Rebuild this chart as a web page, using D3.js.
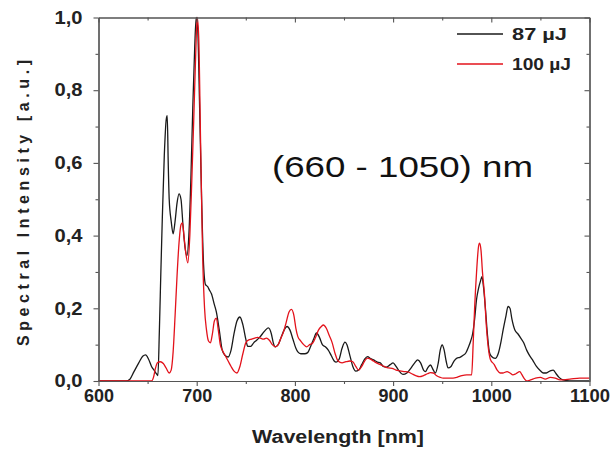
<!DOCTYPE html>
<html>
<head>
<meta charset="utf-8">
<script src="https://cdn.jsdelivr.net/npm/d3@7"></script>
<style>
  html, body { margin: 0; padding: 0; background: #fff; }
  svg { display: block; }
  text { font-family: "Liberation Sans", Arial, sans-serif; }
</style>
</head>
<body>
<svg id="chart" width="610" height="453"></svg>
<script>
// ---------- data ----------
const seriesNames = ["87 µJ", "100 µJ"];
const xTickValues = [600, 700, 800, 900, 1000, 1100];
const xTickLabels = ["600", "700", "800", "900", "1000", "1100"];
const yTickValues = [0, 0.2, 0.4, 0.6, 0.8, 1.0];
const yTickLabels = ["0,0", "0,2", "0,4", "0,6", "0,8", "1,0"];
const annotation = "(660 - 1050) nm";

const wl87 = [600,628,632,636,641,645,648,651,654,657,659,660.5,662,663.5,665,667,669,670,671,672,674,676,678,680,682,684,686,688,690,692,694,696,698,699.5,701,703,705,707,709,711,713,715,718,720,723,726,729,732,735,738,741,744,747,750,752,755,758,761,764,767,770,773,776,778,780,783,786,789,792,795,798,801,803,806,810,813,816,819,822,825,828,831,834,837,840,842,845,848,851,853,856,859,862,865,868,871,874,877,880,884,887,890,893,897,900,903,906,910,914,918,922,925,928,931,933,935,938,941,943,946,948,950,952,954,956,959,962,965,968,971,974,977,979,981,983,985,987,989,990.5,992,994,996,998,1000,1004,1007,1010,1012,1015,1017,1019,1021,1024,1027,1030,1033,1036,1039,1042,1046,1050,1053,1056,1060,1063,1066,1069,1073,1080,1100];
const int87 = [0,0,0.005,0.025,0.05,0.068,0.072,0.06,0.04,0.028,0.02,0.015,0.14,0.3,0.45,0.62,0.72,0.73,0.6,0.5,0.44,0.405,0.44,0.49,0.515,0.5,0.43,0.37,0.345,0.4,0.55,0.75,0.92,1.0,0.97,0.75,0.5,0.32,0.265,0.26,0.25,0.24,0.21,0.19,0.14,0.085,0.07,0.066,0.085,0.13,0.165,0.176,0.155,0.115,0.095,0.095,0.105,0.112,0.12,0.13,0.14,0.146,0.13,0.105,0.094,0.1,0.12,0.14,0.15,0.14,0.115,0.09,0.08,0.075,0.075,0.078,0.095,0.115,0.132,0.12,0.1,0.094,0.085,0.07,0.055,0.052,0.06,0.09,0.107,0.1,0.07,0.04,0.027,0.03,0.045,0.06,0.067,0.062,0.058,0.052,0.05,0.04,0.038,0.045,0.05,0.04,0.028,0.018,0.022,0.035,0.05,0.058,0.05,0.03,0.026,0.035,0.044,0.03,0.022,0.05,0.085,0.099,0.085,0.055,0.036,0.04,0.055,0.063,0.065,0.07,0.077,0.095,0.11,0.13,0.17,0.225,0.255,0.275,0.287,0.26,0.2,0.13,0.08,0.068,0.062,0.075,0.11,0.14,0.18,0.205,0.2,0.17,0.14,0.13,0.118,0.105,0.085,0.07,0.058,0.04,0.028,0.022,0.022,0.028,0.03,0.02,0.01,0.003,0,0];

const wl100 = [600,654,656,658,660,663,666,669,672,674,676,678,680,682,684,685.5,687,689,691,693,695,697,699,700.5,702,704,706,708,710,712,714,716,718,720,722,724,726,729,732,735,738,741,744,747,750,753,756,759,762,765,768,771,774,777,780,783,786,788,791,794,796.5,799,801,803,806,809,812,815,818,821,824,827,829,832,835,838,841,844,848,852,856,859,862,865,868,871,874,877,880,883,887,891,895,899,903,907,911,915,919,923,927,931,935,938,941,944,948,951,956,961,965,970,975,980,981.5,983,985,987,988,989.5,991,993,995,997,999,1003,1006,1009,1012,1016,1019,1022,1025,1029,1031,1034,1036,1040,1045,1050,1055,1060,1065,1070,1080,1090,1100];
const int100 = [0,0,0.01,0.035,0.05,0.053,0.048,0.035,0.022,0.03,0.08,0.18,0.29,0.38,0.43,0.435,0.4,0.35,0.325,0.4,0.55,0.72,0.9,1.0,0.95,0.65,0.35,0.2,0.14,0.11,0.105,0.13,0.165,0.173,0.14,0.1,0.085,0.07,0.055,0.04,0.027,0.022,0.04,0.075,0.105,0.113,0.115,0.118,0.12,0.118,0.115,0.118,0.112,0.1,0.094,0.1,0.12,0.132,0.16,0.19,0.197,0.18,0.145,0.122,0.11,0.1,0.094,0.1,0.104,0.12,0.14,0.15,0.154,0.145,0.125,0.105,0.075,0.055,0.05,0.053,0.055,0.053,0.04,0.03,0.04,0.055,0.063,0.06,0.055,0.05,0.045,0.04,0.036,0.035,0.03,0.028,0.026,0.025,0.02,0.015,0.012,0.015,0.02,0.023,0.022,0.015,0.01,0.008,0.008,0.008,0.01,0.015,0.017,0.017,0.1,0.2,0.3,0.37,0.379,0.36,0.3,0.24,0.15,0.09,0.06,0.045,0.03,0.022,0.022,0.026,0.022,0.017,0.02,0.026,0.018,0.005,0,0.003,0.008,0.01,0.005,0.01,0.008,0.003,0.005,0.008,0.008];

const series = [
  { name: seriesNames[0], wl: wl87, v: int87, color: "#1a1a1a" },
  { name: seriesNames[1], wl: wl100, v: int100, color: "#e3121b" }
];

// ---------- layout ----------
const svg = d3.select("#chart");
const L = 98.5, R = 589.5, T = 17.5, B = 381;
const x = d3.scaleLinear().domain([600, 1100]).range([L, R]);
const y = d3.scaleLinear().domain([0, 1.0]).range([B, T]);
const axisColor = "#555";

// ---------- lines ----------
const line = d3.line().x(d => x(d[0])).y(d => y(d[1])).curve(d3.curveMonotoneX);
const plot = svg.append("g");
series.forEach(s => {
  plot.append("path")
    .datum(s.wl.map((w, i) => [w, s.v[i]]))
    .attr("fill", "none")
    .attr("stroke", s.color)
    .attr("stroke-width", 1.3)
    .attr("stroke-linejoin", "round")
    .attr("d", line);
});

// ---------- axes ----------
function styleAxis(g) {
  g.selectAll(".domain").attr("stroke", axisColor).attr("stroke-width", 1.2);
  g.selectAll(".tick line").attr("stroke", axisColor).attr("stroke-width", 1.1);
  g.selectAll(".tick text")
    .attr("fill", "#222")
    .attr("font-size", 18)
    .attr("font-weight", "bold");
}

const minorX = d3.range(650, 1100, 100);
const minorY = [0.1, 0.3, 0.5, 0.7, 0.9];

// bottom
const gx = svg.append("g").attr("transform", `translate(0,${B})`)
  .call(d3.axisBottom(x).tickValues(xTickValues).tickFormat((d, i) => xTickLabels[i]).tickSize(5).tickSizeOuter(0).tickPadding(3))
  .call(styleAxis);
gx.selectAll(".tick text").each(function () {
  const n = this.textContent.length;
  d3.select(this).attr("textLength", n * 10).attr("lengthAdjust", "spacingAndGlyphs");
});
svg.append("g").attr("transform", `translate(0,${B})`)
  .call(d3.axisBottom(x).tickValues(minorX).tickFormat("").tickSize(3).tickSizeOuter(0))
  .call(styleAxis);
// left
const gy = svg.append("g").attr("transform", `translate(${L},0)`)
  .call(d3.axisLeft(y).tickValues(yTickValues).tickFormat((d, i) => yTickLabels[i]).tickSize(5).tickSizeOuter(0).tickPadding(11))
  .call(styleAxis);
gy.selectAll(".tick text").attr("textLength", 28).attr("lengthAdjust", "spacingAndGlyphs");
svg.append("g").attr("transform", `translate(${L},0)`)
  .call(d3.axisLeft(y).tickValues(minorY).tickFormat("").tickSize(3).tickSizeOuter(0))
  .call(styleAxis);
// top (mirror, inward)
svg.append("g").attr("transform", `translate(0,${T})`)
  .call(d3.axisTop(x).tickValues(xTickValues).tickFormat("").tickSize(-5).tickSizeOuter(0))
  .call(styleAxis);
svg.append("g").attr("transform", `translate(0,${T})`)
  .call(d3.axisTop(x).tickValues(minorX).tickFormat("").tickSize(-3).tickSizeOuter(0))
  .call(styleAxis);
// right (mirror, inward)
svg.append("g").attr("transform", `translate(${R},0)`)
  .call(d3.axisRight(y).tickValues(yTickValues).tickFormat("").tickSize(-5).tickSizeOuter(0))
  .call(styleAxis);
svg.append("g").attr("transform", `translate(${R},0)`)
  .call(d3.axisRight(y).tickValues(minorY).tickFormat("").tickSize(-3).tickSizeOuter(0))
  .call(styleAxis);

// ---------- axis titles ----------
svg.append("text")
  .attr("x", 338).attr("y", 443)
  .attr("text-anchor", "middle")
  .attr("font-size", 18).attr("font-weight", "bold").attr("fill", "#222")
  .attr("textLength", 172).attr("lengthAdjust", "spacingAndGlyphs")
  .text("Wavelength [nm]");

svg.append("text")
  .attr("transform", "translate(29,203) rotate(-90)")
  .attr("text-anchor", "middle")
  .attr("font-size", 16).attr("font-weight", "bold").attr("fill", "#222")
  .attr("textLength", 286).attr("lengthAdjust", "spacing")
  .text("Spectral Intensity [a.u.]");

// ---------- annotation ----------
svg.append("text")
  .attr("x", 272).attr("y", 177)
  .attr("font-size", 30).attr("fill", "#111")
  .attr("textLength", 261).attr("lengthAdjust", "spacingAndGlyphs")
  .text(annotation);

// ---------- legend ----------
const legY = [34, 64];
const legLen = [55, 59];
series.forEach((s, i) => {
  svg.append("line")
    .attr("x1", 457).attr("x2", 503)
    .attr("y1", legY[i]).attr("y2", legY[i])
    .attr("stroke", s.color).attr("stroke-width", 1.3);
  svg.append("text")
    .attr("x", 512).attr("y", legY[i] + 6)
    .attr("font-size", 16).attr("font-weight", "bold").attr("fill", "#222")
    .attr("textLength", legLen[i]).attr("lengthAdjust", "spacingAndGlyphs")
    .text(s.name);
});
</script>
</body>
</html>
